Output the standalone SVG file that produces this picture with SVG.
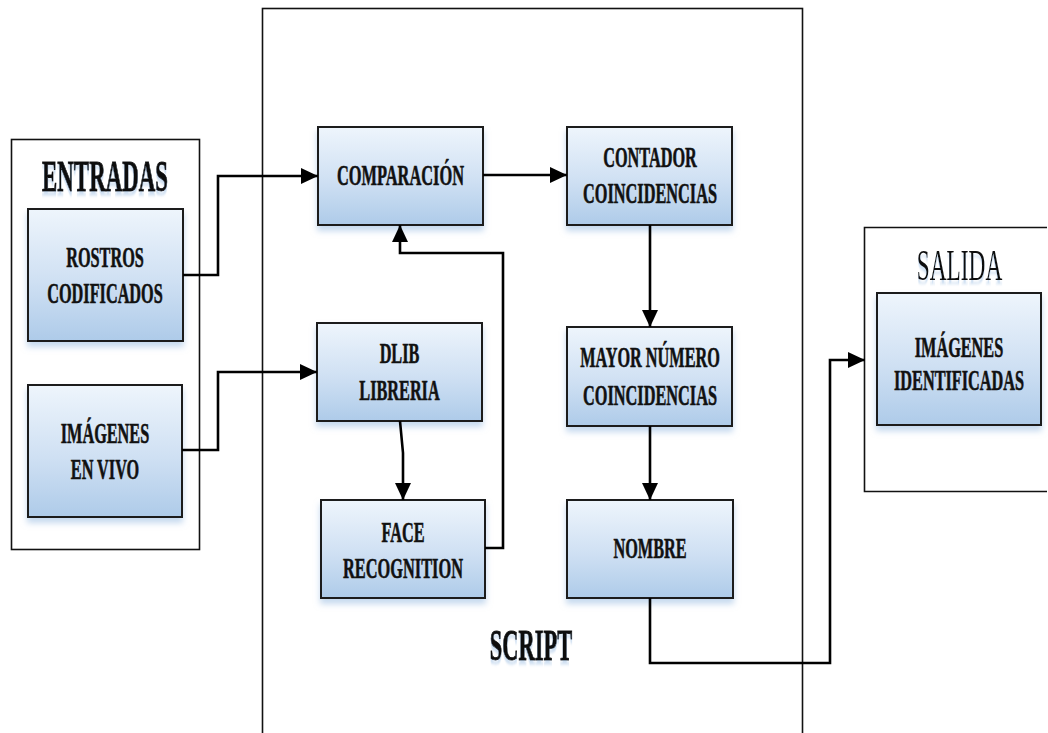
<svg xmlns="http://www.w3.org/2000/svg" width="1048" height="733" viewBox="0 0 1048 733">
<defs>
<linearGradient id="g" x1="0" y1="0" x2="0" y2="1">
<stop offset="0" stop-color="#eef5fc"/>
<stop offset="0.55" stop-color="#cfe0f3"/>
<stop offset="1" stop-color="#aecbe9"/>
</linearGradient>
<filter id="sh" x="-10%" y="-10%" width="120%" height="140%">
<feGaussianBlur in="SourceAlpha" stdDeviation="3"/>
<feOffset dx="0" dy="5" result="b"/>
<feFlood flood-color="#9fc0e4" flood-opacity="0.6"/>
<feComposite in2="b" operator="in"/>
<feMerge><feMergeNode/><feMergeNode in="SourceGraphic"/></feMerge>
</filter>
<filter id="tsh" x="-10%" y="-20%" width="120%" height="160%">
<feGaussianBlur in="SourceAlpha" stdDeviation="1.5"/>
<feOffset dx="0" dy="4" result="b"/>
<feFlood flood-color="#9fc0e4" flood-opacity="0.5"/>
<feComposite in2="b" operator="in"/>
<feMerge><feMergeNode/><feMergeNode in="SourceGraphic"/></feMerge>
</filter>
<marker id="ah" markerUnits="userSpaceOnUse" markerWidth="17" markerHeight="16" viewBox="0 0 17 16" refX="17" refY="8" orient="auto">
<path d="M0,0 L17,8 L0,16 Z" fill="#000"/>
</marker>
</defs>
<style>
.frame{fill:#fff;stroke:#111;stroke-width:1.6}
.open{fill:#fff;stroke:#111;stroke-width:1.6}
.box{fill:url(#g);stroke:#1a1a1a;stroke-width:2;filter:url(#sh)}
.t{font-family:"Liberation Serif","Times New Roman",serif;font-weight:bold;font-size:29px;fill:#111;stroke:#111;stroke-width:0.6;text-anchor:middle}
.h{font-family:"Liberation Serif","Times New Roman",serif;font-size:44px;fill:#111;filter:url(#tsh);text-anchor:middle}
.hb{font-weight:bold;stroke:#111;stroke-width:0.9}
.c{fill:none;stroke:#000;stroke-width:2.6}
</style>
<rect width="1048" height="733" fill="#fff"/>

<g id="script-frame">
<rect class="frame" x="262.5" y="8.5" width="540" height="740"/>
<text class="h hb" transform="translate(531,660) scale(0.51,1)">SCRIPT</text>
</g>

<g id="entradas">
<rect class="frame" x="11.5" y="139.5" width="188" height="410"/>
<text class="h hb" transform="translate(105,191) scale(0.52,1)">ENTRADAS</text>
</g>

<g id="salida">
<path class="open" d="M1047,227.5 H864.5 V491.5 H1047"/>
<text class="h" transform="translate(959.5,280) scale(0.53,1)">SALIDA</text>
</g>

<g id="rostros">
<rect class="box" x="28" y="209" width="155" height="132"/>
<text class="t" transform="translate(105,267) scale(0.56,1)">ROSTROS</text>
<text class="t" transform="translate(105,303) scale(0.56,1)">CODIFICADOS</text>
</g>

<g id="imagenes-vivo">
<rect class="box" x="28" y="385" width="154" height="132"/>
<text class="t" transform="translate(105,443) scale(0.56,1)">IMÁGENES</text>
<text class="t" transform="translate(105,479) scale(0.56,1)">EN VIVO</text>
</g>

<g id="comparacion">
<rect class="box" x="318" y="127" width="165" height="98"/>
<text class="t" transform="translate(400.5,185) scale(0.565,1)">COMPARACIÓN</text>
</g>

<g id="contador">
<rect class="box" x="567" y="127" width="165" height="98"/>
<text class="t" transform="translate(650,167) scale(0.56,1)">CONTADOR</text>
<text class="t" transform="translate(650,203) scale(0.562,1)">COINCIDENCIAS</text>
</g>

<g id="dlib">
<rect class="box" x="317" y="323" width="165" height="98"/>
<text class="t" transform="translate(399.5,363) scale(0.56,1)">DLIB</text>
<text class="t" transform="translate(399.5,400) scale(0.56,1)">LIBRERIA</text>
</g>

<g id="face">
<rect class="box" x="321" y="500" width="164" height="98"/>
<text class="t" transform="translate(403,542) scale(0.56,1)">FACE</text>
<text class="t" transform="translate(403,578) scale(0.564,1)">RECOGNITION</text>
</g>

<g id="mayor">
<rect class="box" x="567" y="327" width="165" height="99"/>
<text class="t" transform="translate(650,367) scale(0.56,1)">MAYOR NÚMERO</text>
<text class="t" transform="translate(650,405) scale(0.562,1)">COINCIDENCIAS</text>
</g>

<g id="nombre">
<rect class="box" x="567" y="500" width="166" height="98"/>
<text class="t" transform="translate(650,558) scale(0.56,1)">NOMBRE</text>
</g>

<g id="imagenes-identificadas">
<rect class="box" x="877" y="293" width="164" height="132"/>
<text class="t" transform="translate(959,357) scale(0.56,1)">IMÁGENES</text>
<text class="t" transform="translate(959,390) scale(0.56,1)">IDENTIFICADAS</text>
</g>

<g id="connectors">
<path class="c" d="M183,275 H218 V176 H318" marker-end="url(#ah)"/>
<path class="c" d="M182,450 H218 V372 H317" marker-end="url(#ah)"/>
<path class="c" d="M483,175 H567" marker-end="url(#ah)"/>
<path class="c" d="M400,421 L403,453 V500" marker-end="url(#ah)"/>
<path class="c" d="M485,548 H503 V253 H400 V225" marker-end="url(#ah)"/>
<path class="c" d="M650,225 V327" marker-end="url(#ah)"/>
<path class="c" d="M650,426 V500" marker-end="url(#ah)"/>
<path class="c" d="M650,598 V663 H830 V360 H865" marker-end="url(#ah)"/>
</g>
</svg>
